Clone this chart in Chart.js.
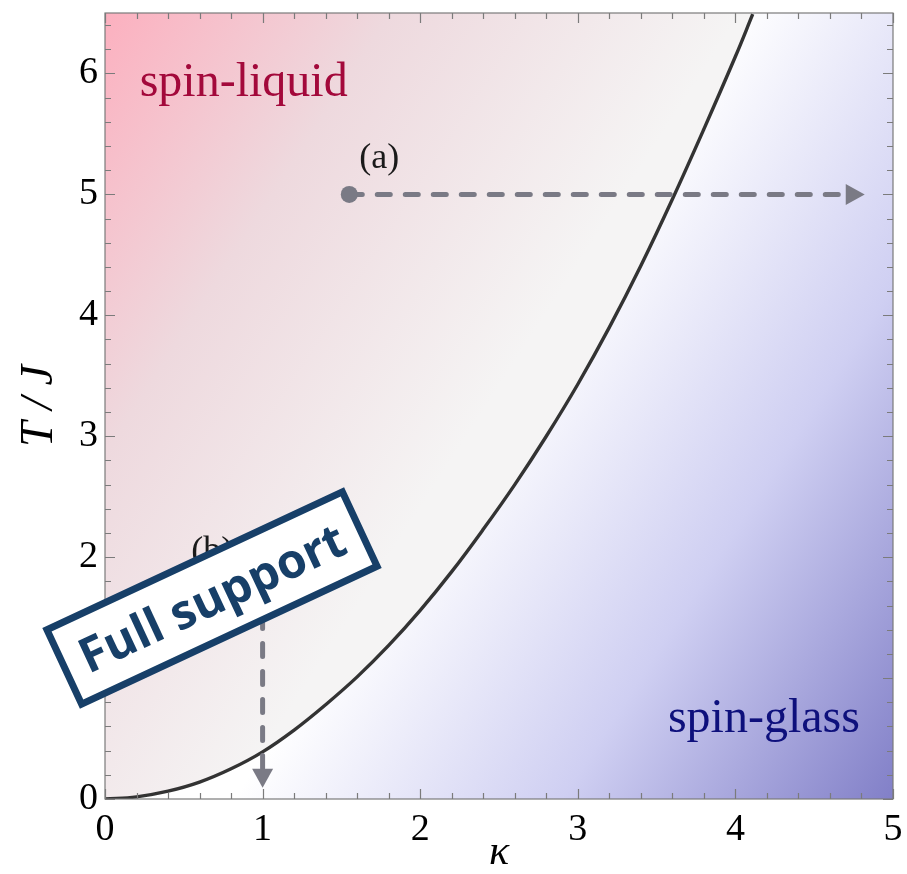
<!DOCTYPE html>
<html>
<head>
<meta charset="utf-8">
<script src="https://cdn.jsdelivr.net/npm/chart.js@4.4.1/dist/chart.umd.min.js"></script>
<style>
html, body { margin: 0; padding: 0; background: #fff; }
#wrap { width: 907px; height: 874px; }
</style>
</head>
<body>
<div id="wrap"><canvas id="phaseChart" width="907" height="874"></canvas></div>
<script>
// Phase boundary T/J vs kappa
const kappaValues = [0, 0.2, 0.4, 0.6, 0.8, 1.0, 1.2, 1.4, 1.6, 1.8, 2.0, 2.2, 2.4, 2.6, 2.8, 3.0, 3.2, 3.4, 3.6, 3.8, 4.0, 4.11];
const boundaryT   = [0, 0.018, 0.065, 0.14, 0.25, 0.39, 0.57, 0.78, 1.01, 1.27, 1.56, 1.88, 2.23, 2.6, 3.0, 3.43, 3.9, 4.41, 4.96, 5.54, 6.14, 6.49];

// quench paths: start point, end of the dashed shaft (arrow head continues past it)
const pathAKappa = [1.55, 4.70];
const pathAT     = [5, 5];
const pathBKappa = [1, 1];
const pathBT     = [1.75, 0.25];
const pathNames  = ['(a)', '(b)'];

const xTicks = [0, 1, 2, 3, 4, 5];
const yTicks = [0, 1, 2, 3, 4, 5, 6];

const SERIF = '"Liberation Serif", "DejaVu Serif", serif';
const PATH_GREY = '#7a7a85';

const toXY = (xs, ys) => xs.map((v, i) => ({ x: v, y: ys[i] }));

function pinkFill(context) {
    const a = context.chart.chartArea;
    if (!a) return 'rgba(0,0,0,0)';
    const c = context.chart.ctx;
    const sx = a.left + 0.465 * a.width, sy = a.top + 0.53 * a.height;
    const g = c.createLinearGradient(sx - 0.57 * a.width, sy - 0.37 * a.height, sx, sy);
    g.addColorStop(0, '#fcb0bf');
    g.addColorStop(0.45, '#eed9de');
    g.addColorStop(1, '#f5f4f4');
    return g;
}

const phasePlot = {
    id: 'phasePlot',
    beforeDatasetsDraw(chart) {
        const { ctx, chartArea: a } = chart;
        const sx = a.left + 0.465 * a.width, sy = a.top + 0.53 * a.height;
        const g = ctx.createLinearGradient(sx, sy, sx + 0.59 * a.width, sy + 0.38 * a.height);
        g.addColorStop(0, '#ffffff');
        g.addColorStop(0.5, '#cfcff2');
        g.addColorStop(1, '#8280c8');
        ctx.save();
        ctx.fillStyle = g;
        ctx.fillRect(a.left, a.top, a.width, a.height);
        ctx.restore();
    },
    afterDatasetsDraw(chart) {
        const { ctx, chartArea: a, scales: { x, y } } = chart;
        ctx.save();

        // arrow heads at the end of each path
        [0, 1].forEach(i => {
            const pts = chart.getDatasetMeta(i).data;
            const p0 = pts[0], p1 = pts[pts.length - 1];
            const ang = Math.atan2(p1.y - p0.y, p1.x - p0.x);
            const len = 19, half = 10.5;
            ctx.save();
            ctx.translate(p1.x, p1.y);
            ctx.rotate(ang);
            ctx.fillStyle = PATH_GREY;
            ctx.beginPath();
            ctx.moveTo(len, 0);
            ctx.lineTo(0, -half);
            ctx.lineTo(0, half);
            ctx.closePath();
            ctx.fill();
            ctx.restore();
        });

        // path labels
        ctx.fillStyle = '#1a1a1a';
        ctx.font = '36px ' + SERIF;
        ctx.textAlign = 'center';
        ctx.textBaseline = 'alphabetic';
        ctx.fillText(pathNames[0], x.getPixelForValue(1.74), y.getPixelForValue(5.22));
        ctx.fillText(pathNames[1], x.getPixelForValue(0.68), y.getPixelForValue(1.97));

        // region names
        ctx.font = '48px ' + SERIF;
        ctx.textAlign = 'left';
        ctx.fillStyle = '#a3093b';
        ctx.fillText('spin-liquid', x.getPixelForValue(0.22), y.getPixelForValue(5.81));
        ctx.textAlign = 'right';
        ctx.fillStyle = '#0e107c';
        ctx.fillText('spin-glass', x.getPixelForValue(4.79), y.getPixelForValue(0.55));

        // frame and inward ticks on all sides
        ctx.strokeStyle = '#7b7b7b';
        ctx.lineWidth = 1.2;
        ctx.strokeRect(a.left, a.top, a.width, a.height);
        ctx.beginPath();
        for (let i = 0; i <= 25; i++) {
            const px = Math.round(x.getPixelForValue(i * 0.2)) + 0.5;
            const len = i % 5 === 0 ? 10 : 6;
            ctx.moveTo(px, a.bottom); ctx.lineTo(px, a.bottom - len);
            ctx.moveTo(px, a.top); ctx.lineTo(px, a.top + len);
        }
        for (let i = 0; i <= 32; i++) {
            const py = Math.round(y.getPixelForValue(i * 0.2)) + 0.5;
            const len = i % 5 === 0 ? 10 : 6;
            ctx.moveTo(a.left, py); ctx.lineTo(a.left + len, py);
            ctx.moveTo(a.right, py); ctx.lineTo(a.right - len, py);
        }
        ctx.stroke();
        ctx.restore();
    },
    afterDraw(chart) {
        // "Full support" stamp laid over the figure
        const { ctx } = chart;
        ctx.save();
        ctx.translate(212, 598);
        ctx.rotate(-25 * Math.PI / 180);
        ctx.fillStyle = '#ffffff';
        ctx.fillRect(-163, -41, 326, 82);
        ctx.strokeStyle = '#173f68';
        ctx.lineWidth = 7;
        ctx.strokeRect(-163, -41, 326, 82);
        ctx.fillStyle = '#173f68';
        ctx.font = 'bold 48px "Open Sans", "Noto Sans", sans-serif';
        ctx.textAlign = 'center';
        ctx.textBaseline = 'middle';
        ctx.fillText('Full support', 0, 3);
        ctx.restore();
    }
};

const pathStyle = {
    borderColor: PATH_GREY,
    borderWidth: 5,
    borderDash: [13, 15],
    borderCapStyle: 'round',
    pointBackgroundColor: PATH_GREY,
    pointBorderWidth: 0,
    pointRadius: ctx => ctx.dataIndex === 0 ? 8.5 : 0,
    fill: false,
    showLine: true
};

new Chart(document.getElementById('phaseChart'), {
    type: 'scatter',
    data: {
        datasets: [
            { label: 'path a', data: toXY(pathAKappa, pathAT), ...pathStyle },
            { label: 'path b', data: toXY(pathBKappa, pathBT), ...pathStyle },
            {
                label: 'boundary',
                data: toXY(kappaValues, boundaryT),
                showLine: true,
                borderColor: '#333333',
                borderWidth: 3.4,
                pointRadius: 0,
                tension: 0.4,
                fill: 'end',
                backgroundColor: pinkFill
            }
        ]
    },
    options: {
        responsive: false,
        animation: false,
        devicePixelRatio: 1,
        layout: { padding: { top: 13, right: 14, left: 0, bottom: 0 } },
        plugins: { legend: { display: false }, tooltip: { enabled: false } },
        scales: {
            x: {
                type: 'linear',
                min: 0, max: 5,
                grid: { display: false, drawTicks: false },
                border: { display: false },
                afterBuildTicks: s => { s.ticks = xTicks.map(v => ({ value: v })); },
                ticks: { color: '#000', padding: 8, font: { family: SERIF, size: 38 } },
                title: { display: true, text: 'κ', color: '#000', padding: 0,
                         font: { family: SERIF, size: 42, style: 'italic', lineHeight: 1 } },
                afterFit: s => { s.height = 75; s.paddingLeft = 0; s.paddingRight = 0; }
            },
            y: {
                type: 'linear',
                min: 0, max: 6.5,
                grid: { display: false, drawTicks: false },
                border: { display: false },
                afterBuildTicks: s => { s.ticks = yTicks.map(v => ({ value: v })); },
                ticks: { color: '#000', padding: 7, font: { family: SERIF, size: 38 } },
                title: { display: true, text: 'T / J', color: '#000', padding: { top: 12, bottom: 0 },
                         font: { family: SERIF, size: 46, style: 'italic', lineHeight: 1.2 } },
                afterFit: s => { s.width = 105; s.paddingTop = 0; s.paddingBottom = 0; }
            }
        }
    },
    plugins: [phasePlot]
});
</script>
</body>
</html>
